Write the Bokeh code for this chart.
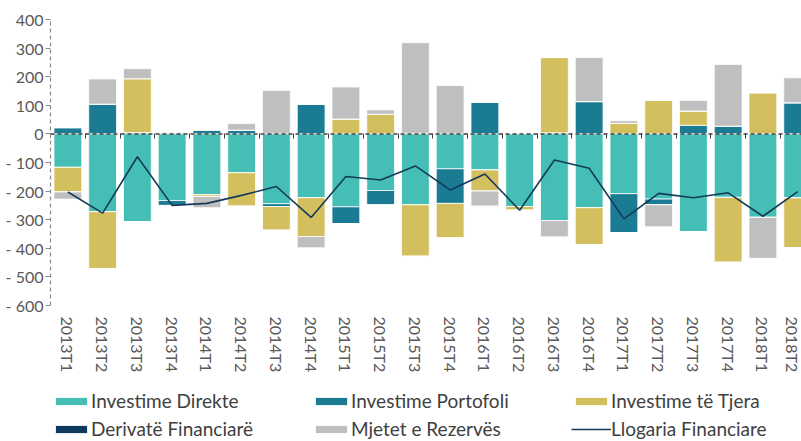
from math import pi
from bokeh.plotting import figure
from bokeh.layouts import column
from bokeh.models import (ColumnDataSource, Range1d, FixedTicker, LinearAxis, Span,
                          Legend, LegendItem, CustomJSTickFormatter)
from bokeh.embed import file_html
from bokeh.resources import INLINE

categories = ["2013T1", "2013T2", "2013T3", "2013T4", "2014T1", "2014T2", "2014T3", "2014T4",
              "2015T1", "2015T2", "2015T3", "2015T4", "2016T1", "2016T2", "2016T3", "2016T4",
              "2017T1", "2017T2", "2017T3", "2017T4", "2018T1", "2018T2"]

investime_direkte = [-117, -272, -308, -233, -213, -136, -244, -223, -255, -198, -248, -122,
                     -126, -254, -303, -258, -209, -228, -342, -222, -292, -224]
investime_portofoli = [22, 104, 5, -17, 14, 13, -10, 104, -59, -51, 2, -121,
                       111, 0, 4, 113, -136, -20, 30, 27, 0, 109]
investime_tjera = [-86, -199, 188, -3, -6, -117, -83, -136, 52, 69, -180, -121,
                   -74, -12, 263, -130, 37, 117, 50, -227, 144, -174]
derivate_financiare = [0, 0, 0, -2, 0, 0, 0, 0, 0, 0, 0, 0,
                       0, -2, 0, 0, 0, 0, 0, 0, 0, 0]
mjetet_rezerves = [-25, 88, 35, 5, -39, 23, 152, -39, 112, 15, 317, 169,
                   -52, 0, -57, 154, 9, -77, 37, 216, -143, 87]
llogaria_financiare = [-203, -277, -80, -250, -243, -215, -184, -292, -149, -161, -112, -196,
                       -140, -267, -91, -120, -297, -208, -223, -206, -288, -202]

series_names = ["Investime Direkte", "Investime Portofoli", "Investime të Tjera",
                "Derivatë Financiarë", "Mjetet e Rezervës"]
series_values = [investime_direkte, investime_portofoli, investime_tjera,
                 derivate_financiare, mjetet_rezerves]
series_colors = ["#45BFB5", "#1A7B93", "#D4BF5E", "#0D3A5C", "#BFBFBF"]
line_name = "Llogaria Financiare"
line_color = "#143A5A"

y_ticks = [400, 300, 200, 100, 0, -100, -200, -300, -400, -500, -600]

x_idx = list(range(len(categories)))
data = {"x": x_idx, "llogaria": llogaria_financiare}
pos_keys, neg_keys = [], []
for i, vals in enumerate(series_values):
    data[f"p{i}"] = [max(v, 0) for v in vals]
    data[f"n{i}"] = [min(v, 0) for v in vals]
    pos_keys.append(f"p{i}")
    neg_keys.append(f"n{i}")
src = ColumnDataSource(data)

FONT = "Lato"
BAR_LINE = dict(line_color="white", line_width=1, line_alpha=0.8)

p = figure(width=801, height=375, x_range=Range1d(-0.5, 21.11), y_range=Range1d(-600, 400),
           output_backend="svg", toolbar_location=None,
           min_border_left=50, min_border_right=0, min_border_top=19, min_border_bottom=68)
p.outline_line_color = None
p.xgrid.visible = False
p.ygrid.ticker = FixedTicker(ticks=[-600, 400])
p.ygrid.grid_line_color = "#7F7F7F"
p.ygrid.grid_line_dash = "4 3"
p.ygrid.grid_line_width = 1.2

p.vbar_stack(pos_keys, x="x", width=0.8, color=series_colors, source=src, **BAR_LINE)
p.vbar_stack(neg_keys, x="x", width=0.8, color=series_colors, source=src, **BAR_LINE)
p.line("x", "llogaria", source=src, line_color=line_color, line_width=1.6)

p.add_layout(Span(location=0, dimension="width", line_color="#404040",
                  line_dash="4 3", line_width=1.5))

# y axis
ya = p.yaxis[0]
ya.ticker = FixedTicker(ticks=y_ticks)
ya.major_label_overrides = {t: (str(t) if t >= 0 else "- " + str(-t)) for t in y_ticks}
ya.axis_line_color = "#8C8C8C"
ya.axis_line_dash = "4 3"
ya.axis_line_width = 1.2
ya.major_tick_out = 5
ya.major_tick_in = 0
ya.major_tick_line_color = "#8C8C8C"
ya.minor_tick_line_color = None
ya.major_label_standoff = 2
ya.major_label_text_font = FONT
ya.major_label_text_font_size = "16px"
ya.major_label_text_color = "#595959"

# x axis (labels)
xa = p.xaxis[0]
xa.ticker = FixedTicker(ticks=x_idx)
xa.major_label_overrides = {i: c for i, c in zip(x_idx, categories)}
xa.major_label_orientation = -pi / 2
xa.axis_line_color = None
xa.major_tick_line_color = None
xa.minor_tick_line_color = None
xa.major_label_standoff = 5
xa.major_label_text_font = FONT
xa.major_label_text_font_size = "16px"
xa.major_label_text_color = "#595959"

# category boundary ticks on the zero line
tick_axis = LinearAxis(fixed_location=0,
                       ticker=FixedTicker(ticks=[i - 0.5 for i in range(len(categories) + 1)]),
                       formatter=CustomJSTickFormatter(code="return ''"),
                       axis_line_color=None, major_tick_out=5, major_tick_in=0,
                       major_tick_line_color="#404040", minor_tick_line_color=None)
p.add_layout(tick_axis, "below")

# legend panel (separate figure below the chart); proxy renderers lie outside its view
lg = figure(width=801, height=66, x_range=Range1d(-0.5, 21.11), y_range=Range1d(5000, 5001),
            output_backend="svg", toolbar_location=None,
            x_axis_type=None, y_axis_type=None,
            min_border_left=0, min_border_right=0, min_border_top=0, min_border_bottom=0)
lg.outline_line_color = None
lg.xgrid.visible = False
lg.ygrid.visible = False
proxies = [lg.vbar(x="x", top=k, width=0.8, color=c, source=src, **BAR_LINE)
           for k, c in zip(pos_keys, series_colors)]
proxies.append(lg.line("x", "llogaria", source=src, line_color=line_color, line_width=1.6))
items = [LegendItem(label=n, renderers=[r])
         for n, r in zip(series_names + [line_name], proxies)]
legend = Legend(items=items, ncols=3, orientation="horizontal", location=(1, 1),
                glyph_width=40, glyph_height=10, label_standoff=0, label_width=215,
                spacing=5, padding=1, margin=0, border_line_color=None,
                background_fill_alpha=0, label_text_font=FONT,
                label_text_font_size="19px", label_text_color="#404040")
lg.add_layout(legend)

layout = column(p, lg, spacing=0)
open("out.html", "w").write(file_html(layout, INLINE))
